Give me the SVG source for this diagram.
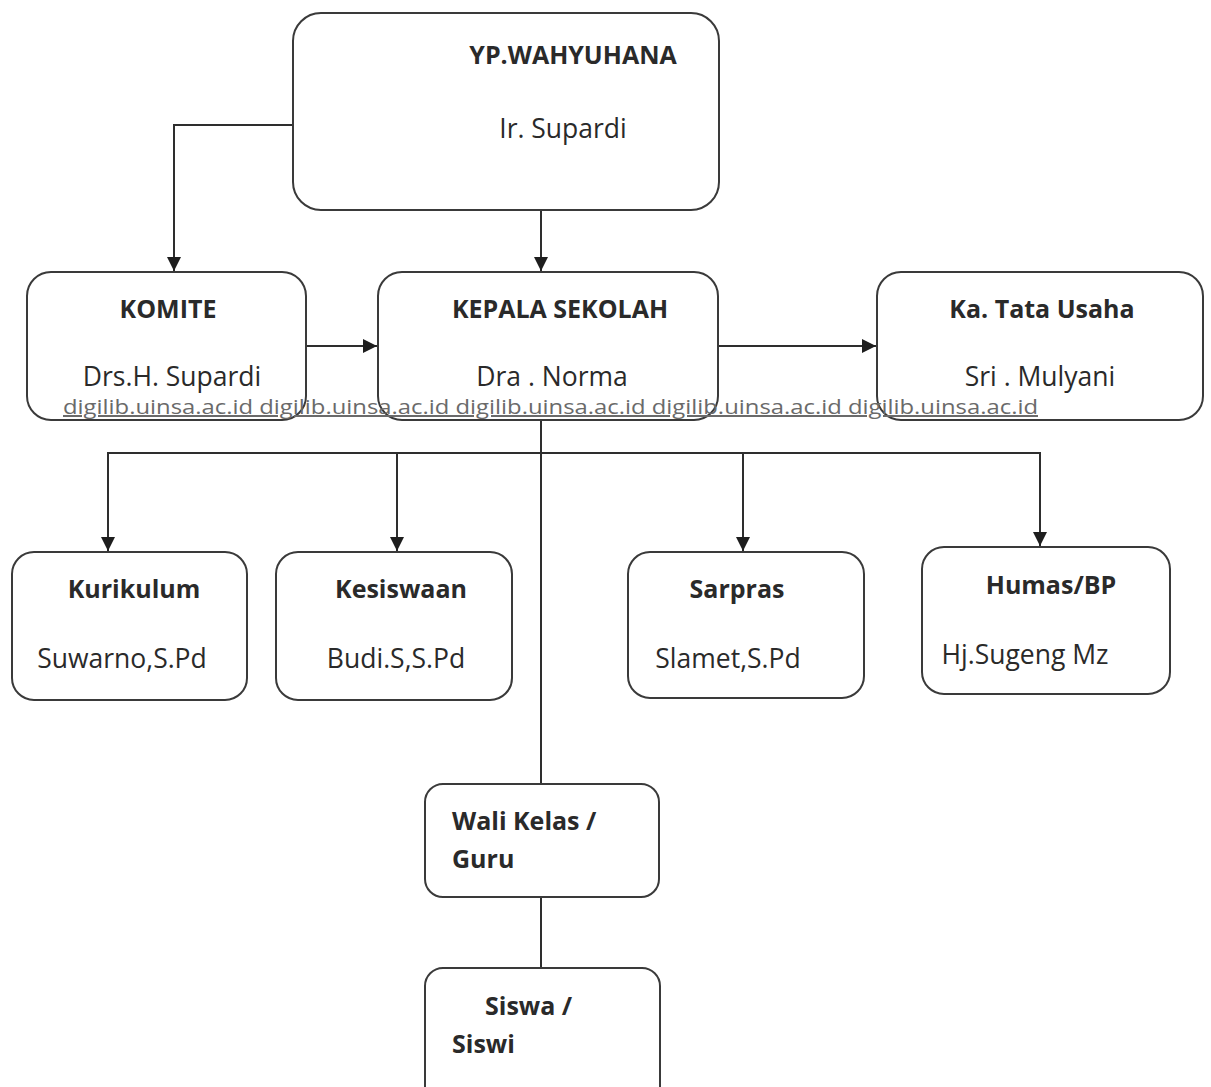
<svg xmlns="http://www.w3.org/2000/svg" width="1211" height="1087" viewBox="0 0 1211 1087">
<style>
.box{fill:#ffffff;stroke:#3a3a3a;stroke-width:2}
.t{font-family:"Open Sans","Liberation Sans",sans-serif;font-size:26.5px;fill:#2a2a2a;text-anchor:middle}
.b{font-weight:bold;font-size:25px}
.l{text-anchor:start}
.c{fill:none;stroke:#2e2e2e;stroke-width:2}
.wm{font-family:"Open Sans","Liberation Sans",sans-serif;font-size:20px;fill:#6a6a6a;text-decoration:underline}
</style>
<defs>
<marker id="ah" markerUnits="userSpaceOnUse" markerWidth="14" markerHeight="14" viewBox="0 0 12 12" refX="12" refY="6" orient="auto">
<path d="M0,0 L12,6 L0,12 z" fill="#1e1e1e"/>
</marker>
</defs>
<rect width="1211" height="1087" fill="#ffffff"/>
<g id="connectors">
<polyline class="c" points="293,125 174,125 174,271" marker-end="url(#ah)"/>
<line class="c" x1="541" y1="210" x2="541" y2="271" marker-end="url(#ah)"/>
<line class="c" x1="306" y1="346" x2="377" y2="346" marker-end="url(#ah)"/>
<line class="c" x1="718" y1="346" x2="876" y2="346" marker-end="url(#ah)"/>
<line class="c" x1="541" y1="420" x2="541" y2="784"/>
<polyline class="c" points="108,551 108,453 1040,453 1040,546" marker-end="url(#ah)"/>
<line class="c" x1="108" y1="453" x2="108" y2="551" marker-end="url(#ah)"/>
<line class="c" x1="397" y1="453" x2="397" y2="551" marker-end="url(#ah)"/>
<line class="c" x1="743" y1="453" x2="743" y2="551" marker-end="url(#ah)"/>
<line class="c" x1="541" y1="897" x2="541" y2="968"/>
</g>
<g id="yp">
<rect class="box" x="293" y="13" width="426" height="197" rx="28"/>
<text class="t b" x="573" y="64">YP.WAHYUHANA</text>
<text class="t" x="563" y="138">Ir. Supardi</text>
</g>
<g id="komite">
<rect class="box" x="27" y="272" width="279" height="148" rx="24"/>
<text class="t b" x="168" y="318">KOMITE</text>
<text class="t" x="172" y="386">Drs.H. Supardi</text>
</g>
<g id="kepala">
<rect class="box" x="378" y="272" width="340" height="148" rx="24"/>
<text class="t b" x="560" y="318">KEPALA SEKOLAH</text>
<text class="t" x="552" y="386">Dra . Norma</text>
</g>
<g id="tatausaha">
<rect class="box" x="877" y="272" width="326" height="148" rx="24"/>
<text class="t b" x="1042" y="318">Ka. Tata Usaha</text>
<text class="t" x="1040" y="386">Sri . Mulyani</text>
</g>
<g id="kurikulum">
<rect class="box" x="12" y="552" width="235" height="148" rx="22"/>
<text class="t b" x="134" y="598">Kurikulum</text>
<text class="t" x="122" y="668">Suwarno,S.Pd</text>
</g>
<g id="kesiswaan">
<rect class="box" x="276" y="552" width="236" height="148" rx="22"/>
<text class="t b" x="401" y="598">Kesiswaan</text>
<text class="t" x="396" y="668">Budi.S,S.Pd</text>
</g>
<g id="sarpras">
<rect class="box" x="628" y="552" width="236" height="146" rx="22"/>
<text class="t b" x="737" y="598">Sarpras</text>
<text class="t" x="728" y="668">Slamet,S.Pd</text>
</g>
<g id="humas">
<rect class="box" x="922" y="547" width="248" height="147" rx="22"/>
<text class="t b" x="1051" y="594">Humas/BP</text>
<text class="t" x="1025" y="664">Hj.Sugeng Mz</text>
</g>
<g id="walikelas">
<rect class="box" x="425" y="784" width="234" height="113" rx="18"/>
<text class="t b l" x="452" y="830">Wali Kelas /</text>
<text class="t b l" x="452" y="868">Guru</text>
</g>
<g id="siswa">
<rect class="box" x="425" y="968" width="235" height="140" rx="18"/>
<text class="t b l" x="485" y="1015">Siswa /</text>
<text class="t b l" x="452" y="1053">Siswi</text>
</g>
<text class="wm" x="63" y="414" textLength="975" lengthAdjust="spacingAndGlyphs">digilib.uinsa.ac.id digilib.uinsa.ac.id digilib.uinsa.ac.id digilib.uinsa.ac.id digilib.uinsa.ac.id</text>
</svg>
